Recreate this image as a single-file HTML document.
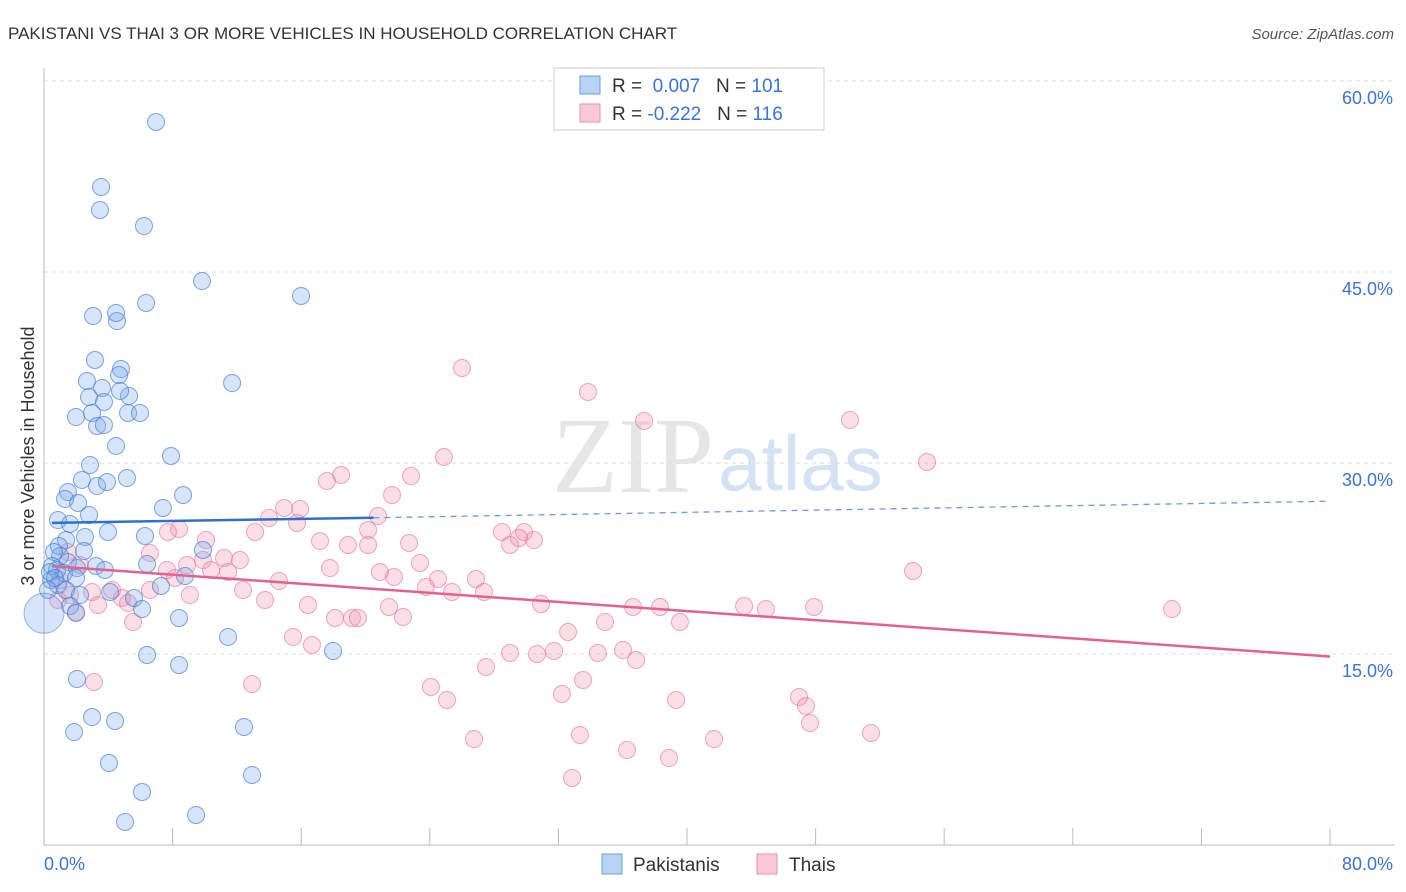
<!DOCTYPE html>
<html><head><meta charset="utf-8"><style>
body{margin:0;background:#fff;font-family:"Liberation Sans",sans-serif;}
svg{display:block}
</style></head><body>
<svg id="chart" width="1406" height="892">
<text x="8" y="39" font-size="17" fill="#333">PAKISTANI VS THAI 3 OR MORE VEHICLES IN HOUSEHOLD CORRELATION CHART</text>
<text x="1394" y="39" font-size="15" fill="#555" font-style="italic" text-anchor="end">Source: ZipAtlas.com</text>
<text x="714" y="492" font-size="108" fill="#e6e6e6" font-family="Liberation Serif" text-anchor="end">ZIP</text>
<text x="718" y="490" font-size="78" fill="#d4e2f3">atlas</text>
<g id="grid"></g>
<g id="pts"></g>
<g id="lines"></g>
<text x="34" y="456" font-size="18" fill="#333" transform="rotate(-90 34 456)" text-anchor="middle">3 or more Vehicles in Household</text>
<text x="44" y="870" font-size="18" fill="#3b73d6">0.0%</text>
<text x="1393" y="870" font-size="18" fill="#3b73d6" text-anchor="end">80.0%</text>
<g>
<rect x="554" y="68" width="270" height="62" fill="#fff" stroke="#ccc"/>
<rect x="580" y="76" width="20" height="18" fill="#b9d3f5" stroke="#6c9be0"/>
<rect x="580" y="104" width="20" height="18" fill="#f9c8d8" stroke="#ec8fb0"/>
<text x="612" y="92" font-size="19" fill="#333">R = <tspan fill="#3b73d6">&#160;0.007</tspan>&#160;&#160;&#160;N = <tspan fill="#3b73d6">101</tspan></text>
<text x="612" y="120" font-size="19" fill="#333">R = <tspan fill="#3b73d6">-0.222</tspan>&#160;&#160;&#160;N = <tspan fill="#3b73d6">116</tspan></text>
</g>
<g>
<rect x="602" y="854" width="20" height="20" fill="#b9d3f5" stroke="#6c9be0"/>
<text x="633" y="871" font-size="19" fill="#333">Pakistanis</text>
<rect x="757" y="854" width="20" height="20" fill="#f9c8d8" stroke="#ec8fb0"/>
<text x="789" y="871" font-size="19" fill="#333">Thais</text>
</g>
</svg>
<script>
const yTicks=[15,30,45,60];
const xTicks=[8,16,24,32,40,48,56,64,72,80];
const bluePx=[[156,122],[101,187],[100,210],[144,226],[202,281],[301,296],[146,303],[93,316],[117,321],[116,313],[95,360],[121,369],[119,375],[87,381],[102,388],[129,396],[89,397],[104,402],[120,391],[76,417],[92,413],[128,413],[140,413],[97,426],[104,425],[116,446],[171,456],[232,383],[90,465],[82,480],[97,486],[107,482],[127,478],[68,492],[65,499],[183,495],[78,503],[89,515],[163,508],[70,524],[58,520],[108,532],[66,540],[85,537],[59,546],[145,536],[84,551],[60,556],[68,562],[54,552],[52,566],[57,570],[64,573],[77,568],[96,566],[105,570],[76,578],[147,564],[185,576],[203,550],[51,580],[58,585],[66,590],[80,595],[110,592],[134,598],[161,586],[70,606],[76,613],[142,609],[179,618],[228,637],[147,655],[179,665],[333,651],[77,679],[92,717],[115,721],[74,732],[244,727],[109,763],[142,792],[252,775],[125,822],[196,815],[50,572],[55,578],[48,590]];
const pinkPx=[[462,368],[588,392],[644,421],[850,420],[444,457],[927,462],[341,475],[327,481],[411,476],[392,495],[378,516],[284,508],[300,509],[269,518],[297,523],[179,529],[168,532],[255,532],[206,540],[320,541],[368,530],[348,545],[368,545],[409,543],[502,532],[510,545],[524,532],[534,540],[519,538],[150,553],[187,565],[203,560],[224,558],[240,560],[211,570],[228,572],[167,570],[279,581],[330,568],[380,572],[394,577],[420,563],[438,579],[476,579],[484,592],[452,592],[426,587],[243,590],[265,600],[308,605],[335,618],[352,618],[358,618],[389,607],[403,617],[541,604],[568,632],[605,622],[633,607],[660,607],[680,622],[744,606],[766,609],[814,607],[913,571],[1172,609],[293,637],[312,645],[486,667],[510,653],[537,654],[554,651],[598,653],[623,650],[636,660],[583,680],[431,687],[447,700],[562,694],[676,700],[799,697],[806,706],[810,723],[871,733],[252,684],[94,682],[580,735],[474,739],[627,750],[669,758],[714,739],[572,778],[150,590],[122,598],[112,590],[98,605],[76,612],[190,595],[128,603],[175,578],[133,622],[60,580],[68,552],[80,565],[92,592],[58,600],[70,595]];
const blueX=bluePx.map(p=>+((p[0]-44)/16.075).toFixed(2));
const blueY=bluePx.map(p=>+((845-p[1])/12.733).toFixed(2));
const pinkX=pinkPx.map(p=>+((p[0]-44)/16.075).toFixed(2));
const pinkY=pinkPx.map(p=>+((845-p[1])/12.733).toFixed(2));
const blueTrend=[0.5,25.3,20.5,25.7,80,27.0];
const pinkTrend=[0.5,21.9,80,14.8];
const sx=v=>44+v*16.075, sy=v=>845-v*12.733;
const NS="http://www.w3.org/2000/svg";
function mk(t,a,parent){const e=document.createElementNS(NS,t);for(const k in a)e.setAttribute(k,a[k]);parent.appendChild(e);return e;}
const grid=document.getElementById('grid');
yTicks.forEach(t=>{
 const l=mk('line',{x1:44,x2:1394,y1:sy(t),y2:sy(t),stroke:'#ddd','stroke-dasharray':'4,4'},grid);
 
 
 const tx=mk('text',{x:1393,y:sy(t)+23,'font-size':18,fill:'#3b73d6','text-anchor':'end'},grid);
 tx.textContent=t.toFixed(1)+'%';
 
 
});
const ax=mk('line',{x1:44,x2:44,y1:68,y2:845,stroke:'#bbb'},grid);


const bx=mk('line',{x1:44,x2:1394,y1:845,y2:845,stroke:'#bbb'},grid);


xTicks.forEach(t=>{
 const l=mk('line',{x1:sx(t),x2:sx(t),y1:828,y2:845,stroke:'#bbb'},grid);
 
 
});
const pts=document.getElementById('pts');
pinkX.forEach((x,i)=>{
 const c=mk('circle',{cx:sx(x),cy:sy(pinkY[i]),r:8.5,fill:'rgba(240,140,170,0.28)',stroke:'rgba(230,110,150,0.6)','stroke-width':1},pts);
 
 
});
blueX.forEach((x,i)=>{
 const c=mk('circle',{cx:sx(x),cy:sy(blueY[i]),r:8.5,fill:'rgba(120,170,235,0.3)',stroke:'rgba(60,120,210,0.65)','stroke-width':1},pts);
 
 
});
const big=mk('circle',{cx:44,cy:sy(18.2),r:20,fill:'rgba(120,170,235,0.3)',stroke:'rgba(60,120,210,0.5)'},pts);


const lines=document.getElementById('lines');
const b1=mk('line',{x1:sx(blueTrend[0]),y1:sy(blueTrend[1]),x2:sx(blueTrend[2]),y2:sy(blueTrend[3]),stroke:'#2f6fd0','stroke-width':2.5},lines);


const b2=mk('line',{x1:sx(blueTrend[2]),y1:sy(blueTrend[3]),x2:sx(blueTrend[4]),y2:sy(blueTrend[5]),stroke:'#6c9be0','stroke-width':1.3,'stroke-dasharray':'6,5'},lines);


const p1=mk('line',{x1:sx(pinkTrend[0]),y1:sy(pinkTrend[1]),x2:sx(pinkTrend[2]),y2:sy(pinkTrend[3]),stroke:'#e2628f','stroke-width':2.5},lines);


</script>
</body></html>
